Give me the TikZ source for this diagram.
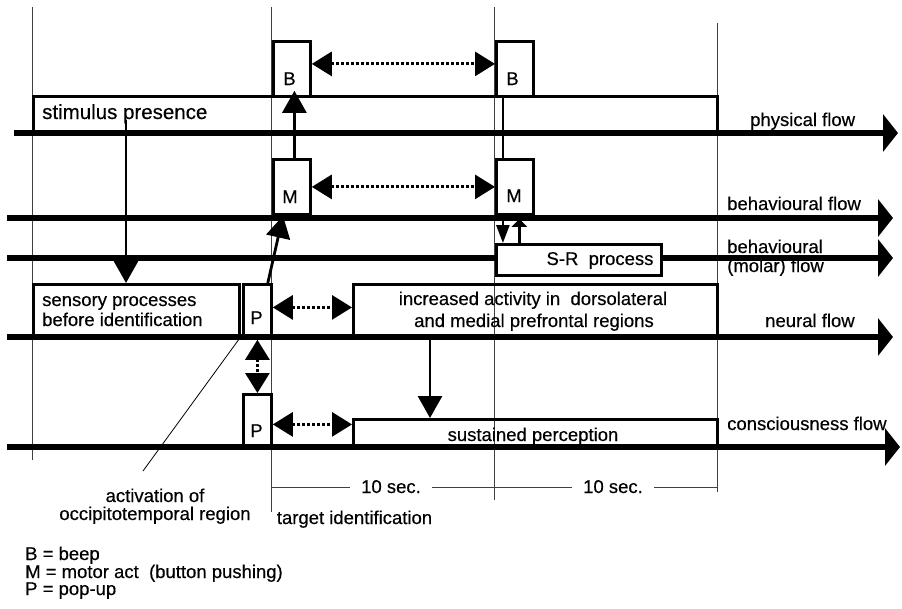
\documentclass[tikz,border=0pt]{standalone}
\usepackage{fontspec}
\setmainfont{Liberation Sans}[UprightFeatures={FakeBold=0.4}]
\usetikzlibrary{arrows.meta,calc}
\begin{document}
\begin{tikzpicture}[x=1pt,y=-1pt,
  every node/.style={font=\fontsize{18.5}{22}\selectfont, inner sep=0pt},
  box/.style={draw, line width=2.8pt, anchor=north west},
  gridline/.style={line width=0.8pt, black!75},
  flow/.style={line width=6pt, -{Triangle[length=15pt,width=37pt]}},
  conn/.style={line width=2.8pt, -{Triangle[length=22pt,width=24pt]}},
  smallconn/.style={line width=2.5pt, -{Triangle[length=18pt,width=13pt]}},
  dotarr/.style={line width=3pt, dash pattern=on 3pt off 2pt,
     {Triangle[length=20pt,width=24pt]}-{Triangle[length=20pt,width=24pt]}},
  txt/.style={anchor=base west},
  ctxt/.style={anchor=base},
]
\useasboundingbox (0,0) rectangle (902,608);

% thin vertical time lines
\draw[gridline] (32,7) -- (32,460);
\draw[gridline] (271,7) -- (271,512);
\draw[gridline] (494,7) -- (494,500);
\draw[gridline] (717,23) -- (717,492);

% boxes
\node[box, minimum width=684pt, minimum height=38pt] (stim) at (32,95) {};
\node[box, minimum width=37pt, minimum height=55pt] (B1) at (272,40) {};
\node[box, minimum width=37pt, minimum height=55pt] (B2) at (495,40) {};
\node[box, minimum width=37pt, minimum height=55pt] (M1) at (272,158) {};
\node[box, minimum width=37pt, minimum height=55pt] (M2) at (495,158) {};
\node[box, minimum width=206pt, minimum height=54pt] (sens) at (32,283) {};
\node[box, minimum width=28pt, minimum height=54pt] (P1) at (242,283) {};
\node[box, minimum width=364pt, minimum height=54pt] (inc) at (352,283) {};
\node[box, minimum width=28pt, minimum height=54pt] (P2) at (242,393) {};
\node[box, minimum width=364pt, minimum height=29pt] (sus) at (352,418) {};

% connectors (under the flow lines)
\coordinate (s0) at (126,120);
\draw[conn] (s0) -- (s0 |- sens.north);
\draw[conn, shorten >=-7pt] ([xshift=2.5pt]M1.north) -- ([xshift=2.5pt]B1.south);
\draw[line width=2.8pt] ([xshift=-12pt]M2.north) -- ([xshift=-12pt]B2.south);
\draw[conn] ([xshift=-5pt]P1.north east) -- ([xshift=11pt]M1.south west);
\draw[conn] ($(inc.south west)+(78,0)$) -- ($(sus.north west)+(78,0)$);

% flow arrows
\coordinate (pf0) at (14,133);  \coordinate (pf1) at (898,133);
\coordinate (bf0) at (7,218);   \coordinate (bf1) at (893,218);
\coordinate (mf0) at (7,258);   \coordinate (mf1) at (893,258);
\coordinate (nf0) at (7,337);   \coordinate (nf1) at (893,337);
\coordinate (cf0) at (7,447);   \coordinate (cf1) at (900,447);
\draw[flow] (pf0) -- (pf1);
\draw[flow] (bf0) -- (bf1);
\draw[flow] (mf0) -- (mf1);
\draw[flow] (nf0) -- (nf1);
\draw[flow] (cf0) -- (cf1);

% S-R box over the molar flow line
\node[box, fill=white, minimum width=165pt, minimum height=31pt] (SR) at (495,243) {};
\draw[smallconn] ([xshift=-12pt]M2.south) -- ([xshift=-12pt]M2.south |- SR.north);
\draw[line width=2.5pt, -{Triangle[length=8pt,width=15pt]}] ([xshift=4.5pt]M2.south |- SR.north) -- ([xshift=4.5pt,yshift=-3pt]M2.south);

% dotted double arrows
\draw[dotarr] ([yshift=5pt]B1.east) -- ([yshift=5pt]B2.west);
\draw[dotarr] (M1.east) -- (M2.west);
\draw[dotarr] ([yshift=4pt]P1.east) -- ([yshift=4pt]inc.west);
\draw[dotarr] (P1.south) -- (P2.north);
\draw[dotarr] ([yshift=-3pt]P2.east) -- ([yshift=-3pt]P2.east -| sus.west);

% pointer line to activation label
\coordinate (a0) at (143,471);
\draw[line width=0.8pt] (a0) -- ([xshift=-2pt,yshift=2pt]P1.south west);

% time bracket
\draw[gridline] (271,487) -- (717,487);
\node[ctxt, fill=white, inner xsep=11pt, inner ysep=2pt] (ten1) at (391,493) {10 sec.};
\node[ctxt, fill=white, inner xsep=11pt, inner ysep=2pt] (ten2) at (613,493) {10 sec.};

% texts
\node[txt, font=\fontsize{20.5}{24}\selectfont] (tstim) at (42,119) {stimulus presence};
\node[ctxt] (tB1) at (289.5,85) {B};
\node[ctxt] (tB2) at (512.5,85) {B};
\node[ctxt] (tM1) at (290,203) {M};
\node[ctxt] (tM2) at (514,202) {M};
\node[ctxt] (tP1) at (256.5,324) {P};
\node[ctxt] (tP2) at (256.5,437) {P};
\node[txt] (tsens1) at (42,306) {sensory processes};
\node[txt] (tsens2) at (42,326) {before identification};
\node[ctxt] (tinc1) at (533,305) {increased activity in\ \ dorsolateral};
\node[ctxt] (tinc2) at (534,327) {and medial prefrontal regions};
\node[ctxt] (tSR) at (600,265) {S-R\ \ process};
\node[ctxt] (tsus) at (533,441) {sustained perception};

\node[txt] (lphys) at (750,126) {physical flow};
\node[txt] (lbeh) at (727,210) {behavioural flow};
\node[txt] (lmol1) at (727,253) {behavioural};
\node[txt] (lmol2) at (727,272) {(molar) flow};
\node[txt] (lneu) at (765,327) {neural flow};
\node[txt] (lcon) at (727,430) {consciousness flow};

\node[ctxt] (act1) at (155,502) {activation of};
\node[ctxt] (act2) at (155,520) {occipitotemporal region};
\node[ctxt] (targ) at (354.5,524) {target identification};

\node[txt] (legB) at (25,560) {B = beep};
\node[txt] (legM) at (25,578) {M = motor act\ \ (button pushing)};
\node[txt] (legP) at (25,595) {P = pop-up};
\end{tikzpicture}
\end{document}
